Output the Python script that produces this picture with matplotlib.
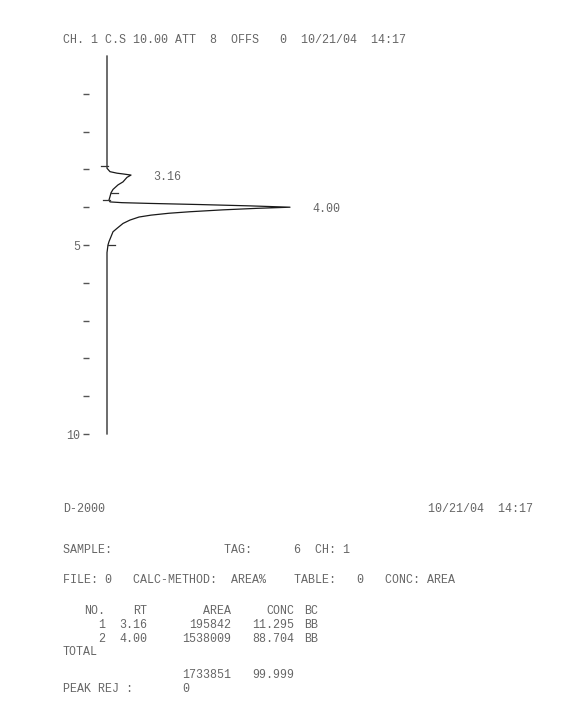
import numpy as np
import matplotlib.pyplot as plt

# chromatogram trace: time (min) vs detector signal
trace_time = [0.00, 2.88, 2.97, 3.06, 3.10, 3.12, 3.15, 3.21, 3.33, 3.41, 3.53,
              3.62, 3.72, 3.81, 3.86, 3.88, 3.90, 3.93, 3.965, 4.00, 4.03, 4.07,
              4.12, 4.16, 4.21, 4.26, 4.34, 4.43, 4.56, 4.65, 4.78, 4.91, 5.00, 5.20, 10.00]
trace_signal = [0, 0, 0, 3, 10, 16, 24, 20, 16, 11, 6,
                4, 3, 2, 3, 15, 43, 93, 143, 183, 150, 116,
                83, 62, 44, 32, 23, 16, 10, 6, 4, 2, 1, 0, 0]

peak_rt = [3.16, 4.00]
peak_labels = ["3.16", "4.00"]
peak_height = [24, 183]
event_times = [2.92, 3.62, 3.81, 5.00]

time_ticks = [1, 2, 3, 4, 5, 6, 7, 8, 9, 10]
time_ticklabels = ["", "", "", "", "5", "", "", "", "", "10"]

# report table
peak_no = [1, 2]
rt = ["3.16", "4.00"]
area = [195842, 1538009]
conc = ["11.295", "88.704"]
bc = ["BB", "BB"]
total_area = 1733851
total_conc = "99.999"
peak_rej = 0

header = "CH. 1 C.S 10.00 ATT  8  OFFS   0  10/21/04  14:17"
instrument = "D-2000"
stamp = "10/21/04  14:17"
sample_line = "SAMPLE:                TAG:      6  CH: 1"
file_line = "FILE: 0   CALC-METHOD:  AREA%    TABLE:   0   CONC: AREA"

W, H = 572, 702
FONT = "Liberation Mono"
FS = 8.4
TXT = "#666666"
PITCH = 7.0
X0 = 63

fig = plt.figure(figsize=(W / 100, H / 100), dpi=100)

# text layer in pixel coordinates
tx = fig.add_axes([0, 0, 1, 1])
tx.set_xlim(0, W)
tx.set_ylim(H, 0)
tx.axis("off")


def put(x, y, s, ha="left"):
    tx.text(x, y, s, ha=ha, va="center", family=FONT, fontsize=FS, color=TXT)


def col(c):
    return X0 + c * PITCH


put(X0, 40, header)
put(X0, 509, instrument)
put(533, 509, stamp, ha="right")
put(X0, 550, sample_line)
put(X0, 580, file_line)

rows_y = [625, 639]
put(col(6), 611, "NO.", ha="right")
put(col(12), 611, "RT", ha="right")
put(col(24), 611, "AREA", ha="right")
put(col(33), 611, "CONC", ha="right")
put(col(34.5), 611, "BC")
for i in range(len(peak_no)):
    y = rows_y[i]
    put(col(6), y, str(peak_no[i]), ha="right")
    put(col(12), y, rt[i], ha="right")
    put(col(24), y, str(area[i]), ha="right")
    put(col(33), y, conc[i], ha="right")
    put(col(34.5), y, bc[i])
put(X0, 652, "TOTAL")
put(col(24), 675, str(total_area), ha="right")
put(col(33), 675, total_conc, ha="right")
put(X0, 689, "PEAK REJ :")
put(col(17), 689, str(peak_rej))

# chromatogram: time runs downwards, signal to the right
base_px, top_px, bot_px = 107, 56, 434
left_px, right_px = 89, 560
ax = fig.add_axes([left_px / W, 1 - bot_px / H,
                   (right_px - left_px) / W, (bot_px - top_px) / H])
ax.set_facecolor("none")
ax.set_xlim(left_px - base_px, right_px - base_px)
ax.set_ylim(10, 0)
for sp in ax.spines.values():
    sp.set_visible(False)
ax.set_xticks([])
ax.set_yticks(time_ticks)
ax.set_yticklabels(time_ticklabels, family=FONT, fontsize=FS, color=TXT)
ax.tick_params(axis="y", length=4.5, width=1.0, color="#555555", pad=1.5)

ax.plot(trace_signal, trace_time, color="#1a1a1a", lw=0.9, clip_on=False)

# peak start / end marks
ev_sig = np.interp(event_times, trace_time, trace_signal)
sides = [-1, 1, -1, 1]
for t, s, d in zip(event_times, ev_sig, sides):
    if d < 0:
        ax.plot([s - 6, s + 0.5], [t, t], color="#333333", lw=0.9)
    else:
        ax.plot([s, s + 7], [t, t], color="#333333", lw=0.9)

for t, h, lab in zip(peak_rt, peak_height, peak_labels):
    ax.text(h + 22, t + 0.05, lab, ha="left", va="center",
            family=FONT, fontsize=FS, color=TXT)

fig.savefig("out.png", dpi=100)
